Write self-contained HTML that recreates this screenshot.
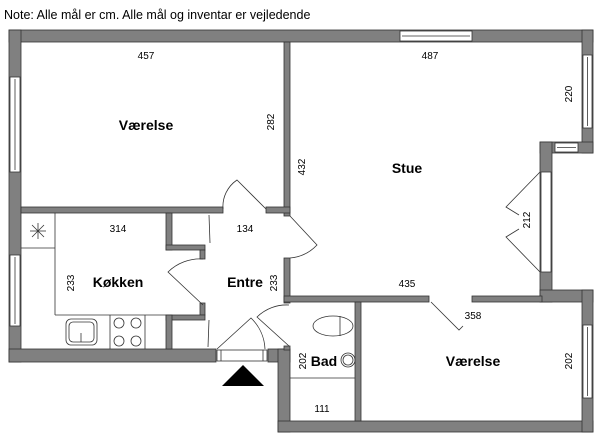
<!DOCTYPE html>
<html><head><style>
html,body{margin:0;padding:0;background:#fff;}
svg{display:block;}
text{font-family:"Liberation Sans",sans-serif;fill:#000;}
.d{font-size:10px;}
.r{font-size:14px;font-weight:bold;}
</style></head><body>
<svg width="600" height="439" viewBox="0 0 600 439" xmlns="http://www.w3.org/2000/svg">
<text x="4" y="19" style="font-size:12.5px">Note: Alle mål er cm. Alle mål og inventar er vejledende</text>
<g fill="#808080" stroke="#333" stroke-width="0.8">
<!-- top wall -->
<rect x="9" y="30" width="584" height="12"/>
<!-- left wall -->
<rect x="9" y="30" width="12" height="332"/>
<!-- bottom left wall -->
<rect x="9" y="349" width="207" height="13"/>
<rect x="268" y="349" width="22" height="13"/>
<!-- bad left wall -->
<rect x="278" y="349" width="12" height="83"/>
<!-- bottom wall -->
<rect x="278" y="421" width="315" height="11"/>
<!-- right walls -->
<rect x="582" y="30" width="11" height="123"/>
<rect x="540" y="142" width="53" height="11"/>
<rect x="540" y="142" width="12" height="160"/>
<rect x="540" y="290" width="53" height="12"/>
<rect x="582" y="290" width="11" height="142"/>
<!-- interior Værelse/Stue -->
<rect x="284" y="42" width="6" height="174"/>
<rect x="21" y="207" width="202" height="6"/>
<rect x="266" y="207" width="24" height="6"/>
<rect x="284" y="258" width="6" height="45"/>
<rect x="284" y="296" width="145" height="6"/>
<rect x="472" y="296" width="70" height="6"/>
<rect x="355" y="302" width="6" height="119"/>
<rect x="284" y="346" width="6" height="4"/>
<!-- closets -->
<rect x="166" y="213" width="6" height="37"/>
<rect x="166" y="245" width="39" height="5"/>
<rect x="200" y="250" width="5" height="9"/>
<rect x="200" y="303" width="5" height="12"/>
<rect x="166" y="315" width="39" height="5"/>
<rect x="166" y="315" width="6" height="34"/>
</g>
<g fill="#fff" stroke="#333" stroke-width="0.8">
<!-- windows -->
<rect x="10" y="77" width="10" height="95"/><line x1="15" y1="79" x2="15" y2="170"/>
<rect x="10" y="255" width="10" height="71"/><line x1="15" y1="257" x2="15" y2="324"/>
<rect x="400" y="31" width="72" height="10"/><line x1="402" y1="36" x2="470" y2="36"/>
<rect x="583" y="55" width="9" height="73"/><line x1="587.5" y1="57" x2="587.5" y2="126"/>
<rect x="555" y="143" width="23" height="9"/><line x1="557" y1="147.5" x2="576" y2="147.5"/>
<rect x="583" y="325" width="9" height="73"/><line x1="587.5" y1="327" x2="587.5" y2="396"/>
<rect x="541" y="172" width="10" height="100"/>
<rect x="217" y="350" width="50" height="11"/>
<line x1="221" y1="350" x2="221" y2="361"/><line x1="263" y1="350" x2="263" y2="361"/>
</g>
<g fill="none" stroke="#333" stroke-width="0.8">
<!-- kitchen fittings -->
<line x1="55" y1="213" x2="55" y2="315"/><line x1="21" y1="248" x2="55" y2="248"/>
<line x1="55" y1="315" x2="166" y2="315"/>
<line x1="110" y1="315" x2="110" y2="349"/><line x1="145" y1="315" x2="145" y2="349"/>
<rect x="66" y="319" width="31" height="26" rx="5"/><rect x="69" y="322" width="25" height="20" rx="4"/>
<line x1="81" y1="333" x2="81" y2="342"/>
<circle cx="119" cy="323" r="5"/><circle cx="136" cy="323" r="5"/>
<circle cx="119" cy="341" r="5"/><circle cx="136" cy="341" r="5"/>
<line x1="30" y1="231" x2="46" y2="231"/><line x1="38" y1="223" x2="38" y2="239"/>
<line x1="32" y1="225" x2="44" y2="237"/><line x1="44" y1="225" x2="32" y2="237"/>
<!-- bad -->
<line x1="290" y1="378" x2="355" y2="378"/>
<ellipse cx="333" cy="326" rx="20" ry="10"/><line x1="340" y1="316" x2="340" y2="336"/>
<circle cx="348" cy="360" r="7"/><circle cx="348" cy="360" r="5"/>
<!-- doors -->
<path d="M266 209 L237 180 A32 32 0 0 0 223 209"/>
<path d="M290 216 L317 245 A42 42 0 0 1 290 258"/>
<path d="M203 305 L168 272 A46 46 0 0 1 203 259"/>
<path d="M217 349 L251 318 A46 46 0 0 1 265 349"/>
<path d="M289 346 L257 317 A42 42 0 0 1 289 305"/>
<path d="M431 302 L459 330 L463 326"/>
<path d="M540 172 L506 207 L519 215"/>
<path d="M540 272 L506 237 L519 229"/>
<line x1="209" y1="215" x2="210" y2="243"/><line x1="209" y1="320" x2="208" y2="347"/>
</g>
<polygon points="222,386 264,386 243,365" fill="#000"/>
<text class="d" x="146" y="59" text-anchor="middle">457</text>
<text class="d" x="430" y="59" text-anchor="middle">487</text>
<text class="d" x="118" y="232" text-anchor="middle">314</text>
<text class="d" x="245" y="232" text-anchor="middle">134</text>
<text class="d" x="407" y="287" text-anchor="middle">435</text>
<text class="d" x="473" y="319" text-anchor="middle">358</text>
<text class="d" x="322" y="412" text-anchor="middle">111</text>
<text class="d" transform="translate(274,122) rotate(-90)" text-anchor="middle">282</text>
<text class="d" transform="translate(305,167) rotate(-90)" text-anchor="middle">432</text>
<text class="d" transform="translate(572,94) rotate(-90)" text-anchor="middle">220</text>
<text class="d" transform="translate(530,220) rotate(-90)" text-anchor="middle">212</text>
<text class="d" transform="translate(74,283) rotate(-90)" text-anchor="middle">233</text>
<text class="d" transform="translate(277,283) rotate(-90)" text-anchor="middle">233</text>
<text class="d" transform="translate(306,361) rotate(-90)" text-anchor="middle">202</text>
<text class="d" transform="translate(572,361) rotate(-90)" text-anchor="middle">202</text>
<text class="r" x="146" y="130" text-anchor="middle">Værelse</text>
<text class="r" x="407" y="173" text-anchor="middle">Stue</text>
<text class="r" x="118" y="287" text-anchor="middle">Køkken</text>
<text class="r" x="245" y="287" text-anchor="middle">Entre</text>
<text class="r" x="324" y="366" text-anchor="middle">Bad</text>
<text class="r" x="473" y="366" text-anchor="middle">Værelse</text>
</svg>
</body></html>
